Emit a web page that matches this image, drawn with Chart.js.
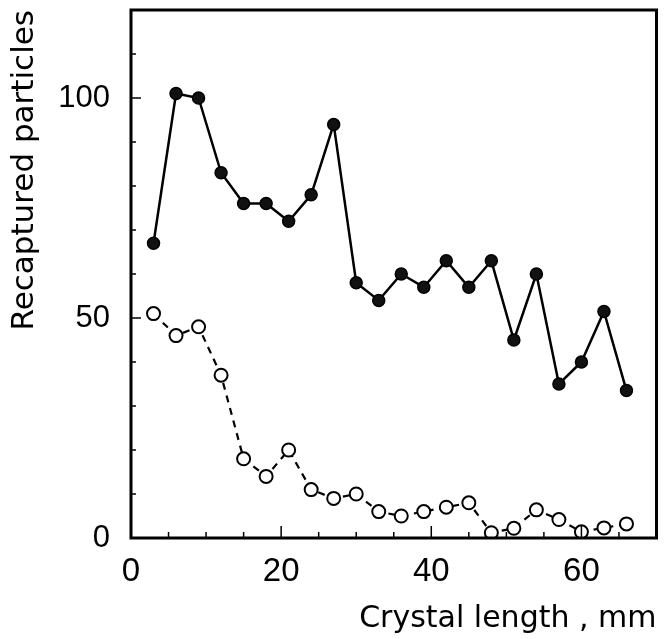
<!DOCTYPE html>
<html>
<head>
<meta charset="utf-8">
<script src="https://cdn.jsdelivr.net/npm/chart.js@4.4.1/dist/chart.umd.min.js"></script>
<style>
  html, body { margin: 0; padding: 0; background: #fff; }
  #wrap { width: 665px; height: 639px; position: relative; }
</style>
</head>
<body>
<div id="wrap"><canvas id="c" width="665" height="639"></canvas></div>
<script>
const crystalLength = [3, 6, 9, 12, 15, 18, 21, 24, 27, 30, 33, 36, 39, 42, 45, 48, 51, 54, 57, 60, 63, 66];
const filledSeries = [67, 101, 100, 83, 76, 76, 72, 78, 94, 58, 54, 60, 57, 63, 57, 63, 45, 60, 35, 40, 51.5, 33.5];
const openSeries   = [51, 46, 48, 37, 18, 14, 20, 11, 9, 10, 6, 5, 6, 7, 8, 1.2, 2.2, 6.4, 4.2, 1.4, 2.3, 3.2];
const xTicks = [0, 20, 40, 60];
const yTicks = [0, 50, 100];

const TICKFONT = "'Liberation Sans', Arial, sans-serif";
const TITLEFONT = "'DejaVu Sans', sans-serif";

const framePlugin = {
  id: 'frame',
  afterDatasetsDraw(chart) {
    const ctx = chart.ctx, a = chart.chartArea;
    const xs = chart.scales.x, ys = chart.scales.y;
    ctx.save();
    ctx.strokeStyle = '#000';
    ctx.lineWidth = 1.5;
    for (let v = 5; v < 70; v += 5) {
      const px = xs.getPixelForValue(v);
      const len = (v % 20 === 0) ? 12 : 6;
      ctx.beginPath(); ctx.moveTo(px, a.bottom); ctx.lineTo(px, a.bottom - len); ctx.stroke();
    }
    for (let v = 10; v < 120; v += 10) {
      const py = ys.getPixelForValue(v);
      const len = (v % 50 === 0) ? 10 : 5;
      ctx.beginPath(); ctx.moveTo(a.left, py); ctx.lineTo(a.left + len, py); ctx.stroke();
    }
    ctx.lineWidth = 3;
    ctx.strokeRect(a.left, a.top, a.right - a.left, a.bottom - a.top);
    ctx.restore();
  }
};

new Chart(document.getElementById('c'), {
  type: 'scatter',
  data: {
    datasets: [
      {
        label: 'filled',
        data: crystalLength.map((x, i) => ({ x, y: filledSeries[i] })),
        showLine: true,
        borderColor: '#000',
        borderWidth: 2.5,
        backgroundColor: '#111',
        pointBackgroundColor: '#111',
        pointBorderColor: '#000',
        pointBorderWidth: 1.5,
        pointRadius: 6,
        tension: 0
      },
      {
        label: 'open',
        data: crystalLength.map((x, i) => ({ x, y: openSeries[i] })),
        showLine: true,
        borderColor: '#000',
        borderWidth: 2.2,
        borderDash: [7, 6],
        pointBackgroundColor: '#fff',
        pointBorderColor: '#000',
        pointBorderWidth: 2,
        pointRadius: 6.5,
        tension: 0
      }
    ]
  },
  options: {
    responsive: false,
    animation: false,
    layout: { padding: { left: 0, right: 3, top: 10, bottom: 0 } },
    plugins: { legend: { display: false }, tooltip: { enabled: false } },
    scales: {
      x: {
        type: 'linear', min: 0, max: 70,
        afterBuildTicks(s) { s.ticks = xTicks.map(v => ({ value: v })); },
        afterFit(s) { s.height = 101; s.paddingLeft = 0; s.paddingRight = 0; },
        grid: { display: false, drawTicks: false },
        border: { display: false },
        ticks: { color: '#000', font: { family: TICKFONT, size: 33 }, padding: 14, maxRotation: 0, autoSkip: false },
        title: { display: true, text: 'Crystal length , mm', align: 'end', color: '#000', font: { family: TITLEFONT, size: 30 }, padding: { top: 0, bottom: 2 } }
      },
      y: {
        type: 'linear', min: 0, max: 120,
        afterBuildTicks(s) { s.ticks = yTicks.map(v => ({ value: v })); },
        afterFit(s) { s.width = 131; s.paddingTop = 0; s.paddingBottom = 0; },
        grid: { display: false, drawTicks: false },
        border: { display: false },
        ticks: { color: '#000', font: { family: TICKFONT, size: 31 }, padding: 21, autoSkip: false },
        title: { display: true, text: 'Recaptured particles', align: 'end', color: '#000', font: { family: TITLEFONT, size: 31 }, padding: { top: 6, bottom: 0 } }
      }
    }
  },
  plugins: [framePlugin]
});
</script>
</body>
</html>
